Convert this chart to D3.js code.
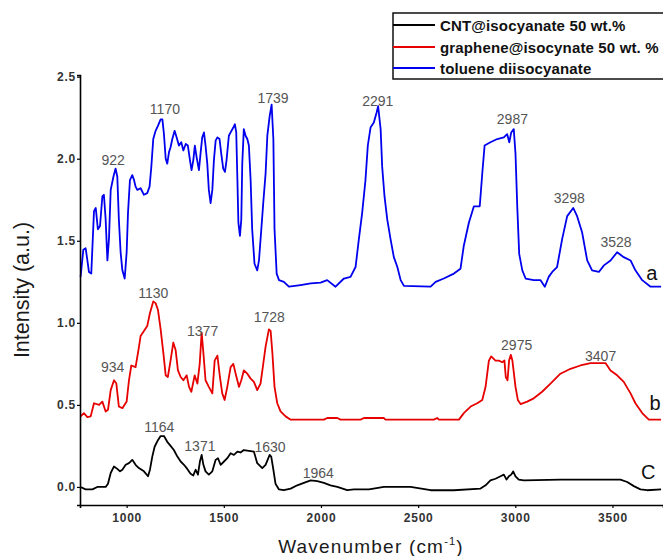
<!DOCTYPE html>
<html><head><meta charset="utf-8">
<script src="https://cdn.jsdelivr.net/npm/d3@7"></script>
<style>
html,body{margin:0;padding:0;background:#fff;}
svg{display:block;}
text{font-family:Arial,"Liberation Sans",sans-serif;}
</style></head>
<body>
<svg id="chart" width="663" height="556"></svg>
<script>
// ---------- DATA ----------
const seriesNames = ["CNT@isocyanate 50 wt.%", "graphene@isocynate 50 wt. %", "toluene diisocyanate"];
const seriesColors = ["#000000", "#e60000", "#0000ee"];

const tdiWavenumber = [763,777,789,798,806,818,825,832,841,852,863,875,883,892,901,909,918,932,943,952,960,969,978,990,1000,1007,1017,1029,1038,1046,1055,1072,1089,1106,1118,1127,1137,1149,1161,1175,1184,1192,1201,1209,1218,1226,1235,1247,1257,1269,1281,1292,1304,1315,1326,1334,1343,1351,1360,1372,1381,1389,1398,1406,1415,1423,1432,1441,1449,1458,1467,1478,1487,1497,1506,1514,1526,1535,1549,1557,1564,1570,1575,1583,1590,1595,1603,1612,1621,1629,1638,1646,1658,1672,1681,1693,1703,1715,1724,1736,1746,1755,1761,1772,1784,1809,1835,1895,1947,1998,2032,2075,2118,2152,2178,2195,2212,2229,2241,2255,2272,2286,2294,2307,2315,2327,2341,2358,2375,2393,2410,2427,2564,2590,2632,2684,2718,2735,2761,2787,2817,2830,2842,2872,2907,2941,2958,2969,2979,2992,3001,3010,3020,3036,3053,3095,3130,3152,3172,3190,3215,3241,3267,3298,3318,3344,3370,3395,3430,3456,3490,3524,3558,3593,3618,3653,3696,3750];
const tdiIntensity = [1.28,1.445,1.455,1.38,1.31,1.30,1.49,1.68,1.70,1.57,1.59,1.77,1.78,1.63,1.38,1.51,1.81,1.89,1.94,1.89,1.63,1.43,1.32,1.27,1.43,1.67,1.87,1.90,1.87,1.83,1.81,1.82,1.78,1.79,1.83,1.95,2.12,2.17,2.20,2.24,2.24,2.15,2.00,1.97,2.04,2.07,2.12,2.17,2.13,2.08,2.10,2.05,2.09,2.08,1.99,1.93,1.99,2.08,2.01,1.93,2.04,2.13,2.16,2.08,1.97,1.81,1.73,1.81,1.99,2.11,2.13,2.12,2.03,1.94,1.92,1.99,2.14,2.16,2.19,2.21,2.16,1.87,1.61,1.53,1.63,1.97,2.18,2.14,2.12,2.08,1.87,1.57,1.36,1.32,1.38,1.57,1.73,1.91,2.14,2.26,2.33,2.12,1.57,1.30,1.26,1.25,1.22,1.23,1.24,1.245,1.26,1.22,1.27,1.28,1.34,1.51,1.67,1.87,2.08,2.19,2.22,2.28,2.32,2.18,1.95,1.77,1.63,1.51,1.40,1.34,1.26,1.225,1.22,1.25,1.27,1.30,1.33,1.47,1.61,1.71,1.71,1.91,2.08,2.10,2.12,2.13,2.15,2.10,2.16,2.18,2.03,1.71,1.42,1.32,1.27,1.26,1.26,1.22,1.28,1.31,1.34,1.51,1.65,1.70,1.65,1.55,1.38,1.32,1.31,1.35,1.38,1.43,1.40,1.38,1.32,1.26,1.22,1.22];

const grapheneWavenumber = [763,780,798,815,832,858,875,892,904,918,935,947,960,978,1000,1012,1024,1046,1063,1072,1089,1106,1120,1137,1149,1161,1175,1189,1201,1212,1226,1240,1252,1264,1278,1292,1309,1321,1333,1350,1364,1376,1386,1395,1406,1423,1441,1453,1467,1480,1492,1504,1518,1535,1549,1561,1578,1590,1603,1621,1638,1655,1672,1689,1703,1715,1732,1741,1750,1761,1775,1792,1818,1844,2015,2032,2084,2101,2204,2221,2324,2332,2581,2598,2607,2710,2735,2770,2804,2830,2847,2864,2876,2898,2915,2933,2944,2951,2960,2968,2977,2985,2991,3001,3013,3027,3061,3095,3138,3181,3232,3284,3335,3387,3430,3464,3490,3524,3558,3593,3618,3653,3687,3750];
const grapheneIntensity = [0.43,0.45,0.425,0.43,0.51,0.50,0.52,0.46,0.47,0.59,0.65,0.63,0.49,0.48,0.52,0.65,0.74,0.73,0.85,0.92,0.95,0.98,1.06,1.13,1.12,1.08,0.96,0.815,0.68,0.67,0.77,0.88,0.835,0.71,0.67,0.65,0.68,0.61,0.58,0.68,0.63,0.75,0.94,0.815,0.65,0.61,0.57,0.77,0.80,0.67,0.57,0.53,0.61,0.73,0.75,0.69,0.61,0.65,0.71,0.69,0.66,0.64,0.59,0.63,0.75,0.855,0.96,0.95,0.815,0.61,0.51,0.46,0.43,0.41,0.41,0.42,0.42,0.41,0.41,0.42,0.42,0.41,0.41,0.42,0.41,0.41,0.45,0.49,0.51,0.53,0.61,0.77,0.795,0.77,0.77,0.76,0.77,0.67,0.65,0.77,0.805,0.77,0.71,0.61,0.53,0.505,0.52,0.54,0.58,0.63,0.69,0.72,0.74,0.755,0.755,0.755,0.71,0.68,0.64,0.57,0.51,0.45,0.41,0.41];

const cntWavenumber = [763,789,824,849,892,904,918,935,952,966,978,995,1012,1029,1046,1063,1089,1110,1120,1132,1144,1161,1175,1192,1209,1223,1243,1261,1278,1295,1312,1329,1343,1355,1367,1377,1386,1395,1406,1423,1441,1458,1470,1484,1501,1518,1535,1552,1570,1586,1603,1629,1655,1672,1698,1715,1736,1744,1755,1766,1784,1809,1844,1878,1912,1947,1981,2015,2049,2084,2135,2170,2247,2324,2461,2564,2684,2821,2847,2872,2898,2924,2941,2955,2967,2979,2989,3001,3018,3044,3232,3301,3541,3576,3610,3644,3678,3750];
const cntIntensity = [0.00,-0.015,-0.015,0.00,0.00,0.02,0.085,0.125,0.11,0.095,0.105,0.135,0.145,0.165,0.135,0.115,0.095,0.065,0.105,0.185,0.245,0.285,0.31,0.31,0.275,0.255,0.225,0.185,0.155,0.135,0.11,0.08,0.07,0.105,0.075,0.155,0.195,0.135,0.095,0.075,0.095,0.165,0.175,0.135,0.155,0.175,0.205,0.195,0.215,0.21,0.225,0.22,0.215,0.145,0.115,0.135,0.195,0.185,0.105,0.02,-0.015,-0.02,-0.01,0.01,0.025,0.04,0.035,0.025,0.01,0.00,-0.02,-0.015,-0.015,0.00,0.00,-0.02,-0.02,-0.01,0.01,0.04,0.05,0.065,0.075,0.045,0.065,0.075,0.095,0.065,0.045,0.04,0.045,0.045,0.045,0.03,0.005,-0.015,-0.02,-0.015];

const xTicks = [1000, 1500, 2000, 2500, 3000, 3500];
const yTicks = [0.0, 0.5, 1.0, 1.5, 2.0, 2.5];

// peak annotations: text, wavenumber, intensity (text centre)
const peakText = ["922","1170","1739","2291","2987","3298","3528","1130","934","1377","1728","2975","3407","1164","1371","1630","1964"];
const peakWn   = [931,1197,1753,2292,2985,3278,3518,1137,928,1391,1734,3007,3439,1168,1377,1738,1986];
const peakVal  = [1.99,2.30,2.37,2.35,2.24,1.76,1.495,1.184,0.73,0.953,1.038,0.862,0.797,0.367,0.252,0.246,0.087];

const curveLetters = ["a","b","C"];
const letterWn  = [3702,3719,3684];
const letterVal = [1.306,0.511,0.093];

// ---------- CHART ----------
const svg = d3.select("#chart");
const x = d3.scaleLinear().domain([760, 3760]).range([80, 663]);
const y = d3.scaleLinear().domain([-0.11, 2.51]).range([505, 75]);

const series = [
  {wn: cntWavenumber, v: cntIntensity, color: seriesColors[0]},
  {wn: grapheneWavenumber, v: grapheneIntensity, color: seriesColors[1]},
  {wn: tdiWavenumber, v: tdiIntensity, color: seriesColors[2]}
];
const line = d3.line().x(d => x(d[0])).y(d => y(d[1]));
series.forEach(s => {
  const pts = s.wn.map((w, i) => [w, s.v[i]]);
  svg.append("path").datum(pts).attr("d", line)
     .attr("fill", "none").attr("stroke", s.color).attr("stroke-width", 1.8)
     .attr("stroke-linejoin", "round");
});

// axes
const xAxis = svg.append("g").attr("transform", "translate(0,505)")
  .call(d3.axisBottom(x).tickValues(xTicks).tickFormat(d3.format("d")).tickSize(3).tickPadding(5));
const yAxis = svg.append("g").attr("transform", "translate(80,0)")
  .call(d3.axisLeft(y).tickValues(yTicks).tickFormat(d3.format(".1f")).tickSize(3).tickPadding(1));
[xAxis, yAxis].forEach(g => {
  g.select(".domain").attr("stroke", "#000").attr("stroke-width", 1.6);
  g.selectAll(".tick line").attr("stroke", "#000").attr("stroke-width", 1.2);
  g.selectAll(".tick text").attr("fill", "#333").attr("font-size", 12).attr("font-weight", "bold")
   .attr("letter-spacing", 0.8)
   .attr("font-family", "Arial, 'Liberation Sans', sans-serif");
});

// axis titles
svg.append("text").attr("x", 371).attr("y", 553).attr("text-anchor", "middle")
  .attr("font-size", 19).attr("letter-spacing", 1.2).attr("fill", "#1a1a1a")
  .html('Wavenumber (cm<tspan dy="-8" font-size="11">-1</tspan><tspan dy="8">)</tspan>');
svg.append("text").attr("transform", "translate(29,290) rotate(-90)").attr("text-anchor", "middle")
  .attr("font-size", 21.5).attr("fill", "#1a1a1a").text("Intensity (a.u.)");

// peak labels
svg.append("g").selectAll("text").data(peakText).join("text")
  .attr("x", (d, i) => x(peakWn[i])).attr("y", (d, i) => y(peakVal[i]))
  .attr("text-anchor", "middle").attr("dominant-baseline", "central")
  .attr("font-size", 14).attr("fill", "#555").text(d => d);

svg.append("g").selectAll("text").data(curveLetters).join("text")
  .attr("x", (d, i) => x(letterWn[i])).attr("y", (d, i) => y(letterVal[i]))
  .attr("text-anchor", "middle").attr("dominant-baseline", "central")
  .attr("font-size", 20).attr("fill", "#111").text(d => d);

// legend
const lg = svg.append("g");
lg.append("rect").attr("x", 393).attr("y", 13).attr("width", 290).attr("height", 66)
  .attr("fill", "#fff").attr("stroke", "#111").attr("stroke-width", 1.5);
const rowsY = [25, 47, 68];
seriesNames.forEach((n, i) => {
  lg.append("line").attr("x1", 393).attr("x2", 435).attr("y1", rowsY[i]).attr("y2", rowsY[i])
    .attr("stroke", seriesColors[i]).attr("stroke-width", 2);
  lg.append("text").attr("x", 440).attr("y", rowsY[i]).attr("dominant-baseline", "central")
    .attr("font-size", 15).attr("font-weight", "bold").attr("letter-spacing", 0.15)
    .attr("fill", "#111").text(n);
});
</script>
</body></html>
